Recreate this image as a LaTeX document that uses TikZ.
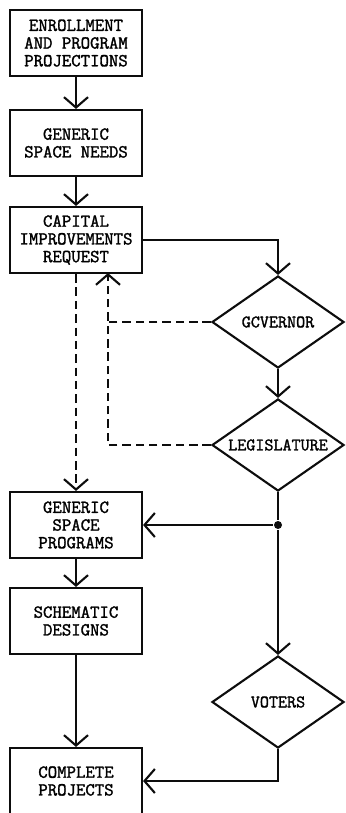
\documentclass[tikz,border=0pt]{standalone}
\usepackage{fontspec}
\newfontfamily\typefont[FakeBold=1.6]{Latin Modern Mono}
\usetikzlibrary{arrows.meta,shapes.geometric}
\definecolor{ink}{gray}{0.05}

\begin{document}
\begin{tikzpicture}[x=0.025cm, y=-0.025cm, line width=1.5pt, draw=ink,
   box/.style={rectangle, draw=ink, minimum width=3.3cm, minimum height=1.65cm, inner sep=1pt, align=center,
     font=\typefont\fontsize{13}{12.6}\selectfont},
   dec/.style={diamond, draw=ink, minimum width=3.3cm, minimum height=2.3cm, inner sep=-4pt,
     font=\typefont\fontsize{12.5}{12}\selectfont},
   flow/.style={-{Straight Barb[length=2.6mm, width=6mm, line width=1.5pt]}},
   back/.style={flow, dash pattern=on 6pt off 3.5pt},
   dot/.style={circle, fill=ink, minimum size=2mm, inner sep=0pt}]
  \useasboundingbox (0,0) rectangle (345,813);
  % main column (left)
  \node[box](proj) at (76,43){ENROLLMENT\\AND PROGRAM\\PROJECTIONS};
  \node[box](need) at (76,143){GENERIC\\SPACE NEEDS};
  \node[box](req) at (76,240){CAPITAL\\IMPROVEMENTS\\REQUEST};
  \node[box](prog) at (76,525){GENERIC\\SPACE\\PROGRAMS};
  \node[box](sch) at (76,621){SCHEMATIC\\DESIGNS};
  \node[box](done) at (76,781){COMPLETE\\PROJECTS};
  % approvals (right)
  \node[dec](gov) at (278,322){GCVERNOR};
  \node[dec](leg) at (278,445){LEGISLATURE};
  \node[dec](vot) at (278,702){VOTERS};
  \node[dot](j) at (278,525){};
  \coordinate (rt) at (108,273);
  % connectors
  \draw[flow] (proj) -- (need);
  \draw[flow] (need) -- (req);
  \draw[flow] (prog) -- (sch);
  \draw[flow] (sch) -- (done);
  \draw[flow] (req.east) -| (gov.north);
  \draw[flow] (gov) -- (leg);
  \draw (leg.south) -- (j);
  \draw[flow] (j) -- (prog.east);
  \draw[flow] (j) -- (vot.north);
  \draw[flow] (vot.south) |- (done.east);
  % dashed returns
  \draw[back] (req) -- (prog);
  \draw[dash pattern=on 6pt off 3.5pt] (gov.west) -- (gov.west -| rt);
  \draw[back] (leg.west) -| (rt);
\end{tikzpicture}
\end{document}
